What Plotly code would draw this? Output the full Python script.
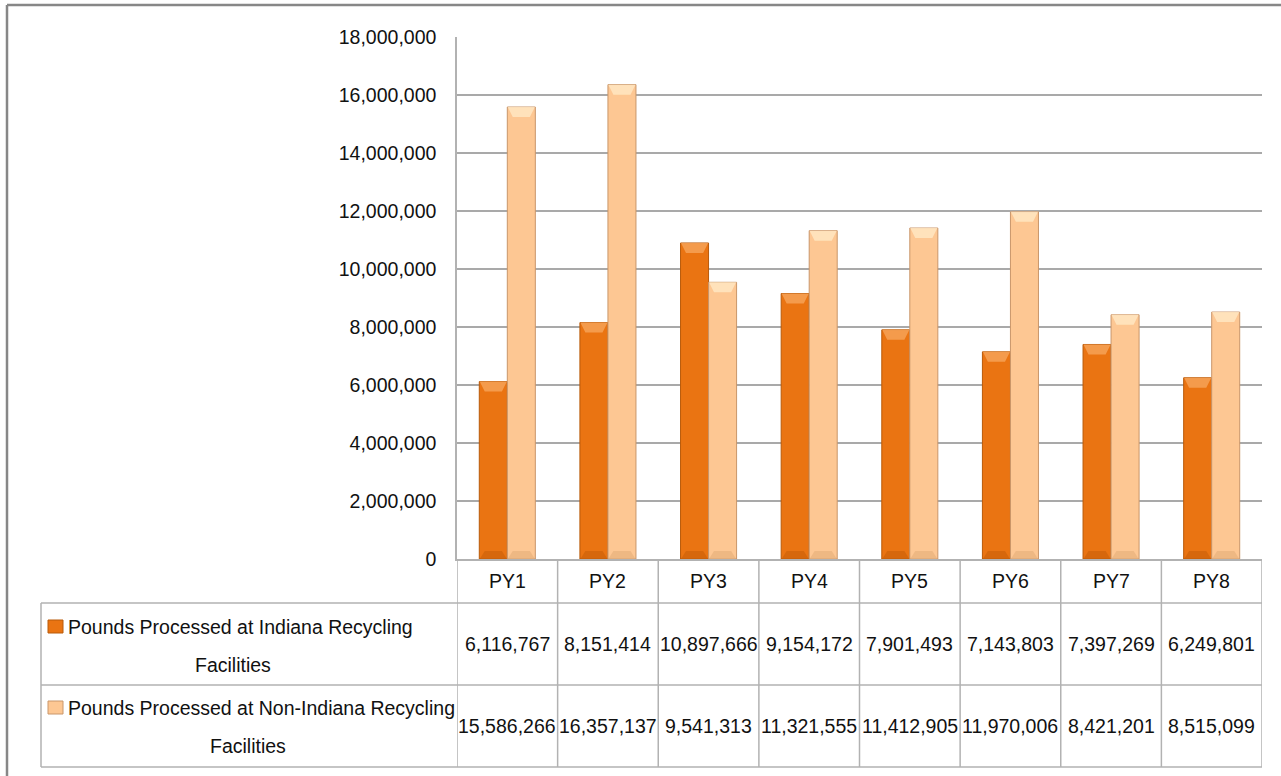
import plotly.graph_objects as go

# ---- data ----
categories = ["PY1", "PY2", "PY3", "PY4", "PY5", "PY6", "PY7", "PY8"]
indiana = [6116767, 8151414, 10897666, 9154172, 7901493, 7143803, 7397269, 6249801]
non_indiana = [15586266, 16357137, 9541313, 11321555, 11412905, 11970006, 8421201, 8515099]
series_names = [
    "Pounds Processed at Indiana Recycling Facilities",
    "Pounds Processed at Non-Indiana Recycling Facilities",
]
y_ticks = list(range(0, 18000001, 2000000))

# ---- styling ----
W, H = 1281, 776
M_L, M_R, M_T, M_B = 457, 19, 37, 217
PLOT_W = W - M_L - M_R
PLOT_H = H - M_T - M_B
Y_MAX = 18000000
FONT = "Liberation Sans, Arial, sans-serif"
FS = 19.5
TXT = "#111111"
DARK, DARK_EDGE, DARK_TOP, DARK_BASE = "#EA7412", "#B85A0A", "#F6A257", "#C85F08"
LIGHT, LIGHT_EDGE, LIGHT_TOP, LIGHT_BASE = "#FDC793", "#C9966A", "#FFE6C2", "#E5AD78"
GRID = "#A9A9A9"
TABLE_LINE = "#B2B2B2"
BAR_W = 0.278          # width of one bar in category units
BEVEL_PX = 10          # bevel depth in pixels


def px_x(px):
    return (px - M_L) / PLOT_W


def px_y(py):
    return (H - M_B - py) / PLOT_H


fig = go.Figure()
fig.add_trace(go.Bar(x=categories, y=indiana, name=series_names[0],
                     marker=dict(color=DARK, line=dict(color=DARK_EDGE, width=1))))
fig.add_trace(go.Bar(x=categories, y=non_indiana, name=series_names[1],
                     marker=dict(color=LIGHT, line=dict(color=LIGHT_EDGE, width=1))))

shapes = []
annotations = []

# bevel highlights on top and base of each bar
bevel_y = BEVEL_PX * Y_MAX / PLOT_H
inset = 0.05
for offset, vals, top_col, base_col in ((-BAR_W / 2, indiana, DARK_TOP, DARK_BASE),
                                        (BAR_W / 2, non_indiana, LIGHT_TOP, LIGHT_BASE)):
    for k, v in enumerate(vals):
        x0 = k + offset - BAR_W / 2 + 0.004
        x1 = k + offset + BAR_W / 2 - 0.004
        top = (f"M{x0},{v} L{x1},{v} L{x1 - inset},{v - bevel_y} "
               f"L{x0 + inset},{v - bevel_y} Z")
        base = (f"M{x0},0 L{x1},0 L{x1 - inset},{bevel_y * 0.8} "
                f"L{x0 + inset},{bevel_y * 0.8} Z")
        shapes.append(dict(type="path", xref="x", yref="y", path=top,
                           fillcolor=top_col, line=dict(width=0), opacity=0.85))
        shapes.append(dict(type="path", xref="x", yref="y", path=base,
                           fillcolor=base_col, line=dict(width=0), opacity=0.6))

# outer chart frame (left and top edges)
shapes.append(dict(type="line", xref="paper", yref="paper", x0=px_x(7), x1=px_x(7),
                   y0=px_y(5), y1=px_y(H + 20), line=dict(color="#878787", width=2.5)))
shapes.append(dict(type="line", xref="paper", yref="paper", x0=px_x(7), x1=px_x(W + 20),
                   y0=px_y(5), y1=px_y(5), line=dict(color="#878787", width=2.5)))

# data table grid
for py in (603, 685, 767):
    shapes.append(dict(type="line", xref="paper", yref="paper", x0=px_x(41), x1=1,
                       y0=px_y(py), y1=px_y(py), line=dict(color=TABLE_LINE, width=1.5)))
for k in range(len(categories) + 1):
    shapes.append(dict(type="line", xref="x", yref="paper", x0=k - 0.5, x1=k - 0.5,
                       y0=0, y1=px_y(767), line=dict(color=TABLE_LINE, width=1.5)))
shapes.append(dict(type="line", xref="paper", yref="paper", x0=px_x(41), x1=px_x(41),
                   y0=px_y(603), y1=px_y(767), line=dict(color=TABLE_LINE, width=1.5)))

txt_font = dict(family=FONT, size=FS, color=TXT)


def label(x, y, text, xref="paper", xanchor="center"):
    annotations.append(dict(x=x, xref=xref, y=y, yref="paper", text=text,
                            xanchor=xanchor, yanchor="middle", showarrow=False,
                            font=txt_font))


# header row
for c in categories:
    label(c, px_y(581), c, xref="x")

# value rows
for vals, yc in ((indiana, 644), (non_indiana, 726)):
    for c, v in zip(categories, vals):
        label(c, px_y(yc), f"{v:,}", xref="x")

# legend keys and labels
legend_rows = [
    (series_names[0], DARK, DARK_EDGE, 627, 665, 233),
    (series_names[1], LIGHT, LIGHT_EDGE, 708, 746, 248),
]
for name, col, edge, y1, y2, x2 in legend_rows:
    first, last = name.rsplit(" ", 1)
    shapes.append(dict(type="rect", xref="paper", yref="paper",
                       x0=px_x(48), x1=px_x(63), y0=px_y(y1 + 6), y1=px_y(y1 - 7),
                       fillcolor=col, line=dict(color=edge, width=1)))
    label(px_x(66), px_y(y1), first, xanchor="left")
    label(px_x(x2), px_y(y2), last)

fig.update_layout(
    width=W, height=H,
    margin=dict(l=M_L, r=M_R, t=M_T, b=M_B, pad=0),
    paper_bgcolor="white", plot_bgcolor="white",
    barmode="group", bargap=0.443, bargroupgap=0,
    showlegend=False,
    font=dict(family=FONT, size=FS, color=TXT),
    shapes=shapes, annotations=annotations,
    xaxis=dict(type="category", range=[-0.5, len(categories) - 0.5],
               showticklabels=False, showgrid=False, zeroline=False,
               showline=True, linecolor=TABLE_LINE, linewidth=1.5, ticks=""),
    yaxis=dict(range=[0, Y_MAX], tickvals=y_ticks, tickformat=",",
               showgrid=True, gridcolor=GRID, gridwidth=1.5, zeroline=False,
               showline=True, linecolor=TABLE_LINE, linewidth=1.5,
               ticks="", ticklabelstandoff=15,
               tickfont=dict(family=FONT, size=FS, color=TXT)),
)

fig.write_html("out.html")
